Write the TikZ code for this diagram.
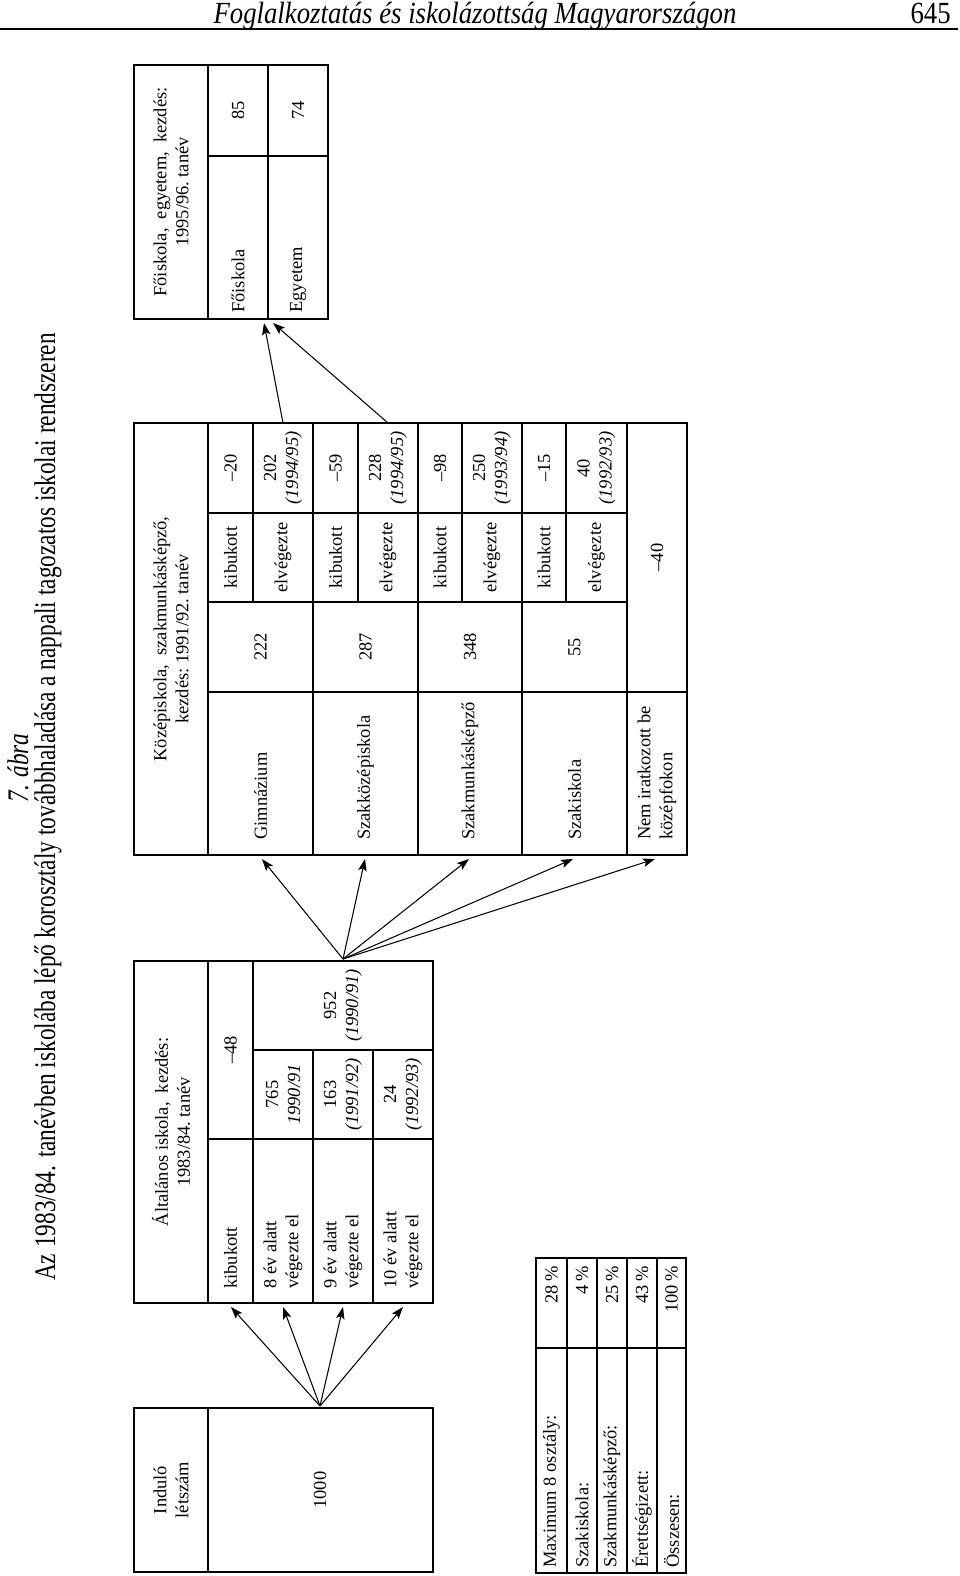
\documentclass[tikz,border=0pt]{standalone}
\usepackage{fontspec}
\setmainfont{Liberation Serif}
\newfontfamily\narrowfont[FakeStretch=0.78]{Liberation Serif}
\newfontfamily\headfont[FakeStretch=0.87]{Liberation Serif}
\usetikzlibrary{arrows.meta}

\tikzset{
  txt/.style={rotate=90, align=center, inner sep=0pt, font=\fontsize{10.5}{12.5}\selectfont},
  ltxt/.style={txt, align=left, anchor=west},
  rtxt/.style={txt, align=right, anchor=east},
  frame/.style={line width=0.9pt},
  arr/.style={-{Stealth[length=2.4mm, width=1.7mm, inset=0.5mm]}, line width=0.6pt},
}

\begin{document}
\begin{tikzpicture}[x=0.02cm, y=-0.02cm]
		\useasboundingbox (0,0) rectangle (960,1576);
		%%%%%%%%%%%%% page head and title
		\node[anchor=base, inner sep=0pt, font=\headfont\itshape\fontsize{17.5}{21}\selectfont] (fej) at (475,23) {Foglalkoztatás és iskolázottság Magyarországon};
		\node[anchor=base east, inner sep=0pt, font=\headfont\fontsize{17.5}{21}\selectfont] (oldal) at (951,23) {645};
		\draw[line width=1.4pt] (0,29) to (958,29);
		\node[rotate=90, font=\narrowfont\itshape\fontsize{17}{20}\selectfont] (abra) at (18,768) {7. ábra};
		\node[rotate=90, font=\narrowfont\fontsize{17}{20}\selectfont] (cim) at (48,807) {Az 1983/84. tanévben iskolába lépő korosztály továbbhaladása a nappali tagozatos iskolai rendszeren};
		%%%%%%%%%%%%% frames
		\draw[frame] (134,1408) rectangle (433,1572);
		\draw[frame] (208,1408) to (208,1572);
		% altalanos iskola
		\draw[frame] (134,961) rectangle (433,1303);
		\draw[frame] (208,961) to (208,1303); \draw[frame] (253,961) to (253,1303);
		\draw[frame] (208,1139) to (433,1139); \draw[frame] (253,1050) to (433,1050);
		\draw[frame] (313,1050) to (313,1303); \draw[frame] (373,1050) to (373,1303);
		% kozepiskola
		\draw[frame] (134,423) rectangle (687,855);
		\draw[frame] (208,423) to (208,855);
		\foreach \x in {313,418,522,627} \draw[frame] (\x,423) to (\x,855);
		\foreach \x in {253,358,462,566} \draw[frame] (\x,423) to (\x,602);
		\draw[frame] (208,692) to (687,692);
		\draw[frame] (208,602) to (627,602); \draw[frame] (208,513) to (627,513);
		% foiskola
		\draw[frame] (134,65) rectangle (328,319);
		\draw[frame] (208,65) to (208,319); \draw[frame] (268,65) to (268,319);
		\draw[frame] (208,156) to (328,156);
		% osszesites
		\draw[frame] (536,1258) rectangle (686,1573);
		\foreach \x in {567,597,627,657} \draw[frame] (\x,1258) to (\x,1573);
		\draw[frame] (536,1348) to (686,1348);
		%%%%%%%%%%%%% texts
		\node[txt] (indulo) at (171,1490) {Induló\\létszám};
		\node[txt] (ezer) at (320,1490) {1000};
		\node[txt] (alt) at (171,1132) {Általános iskola,\ \ kezdés:\\1983/84.\ tanév};
		\node[txt] (m48) at (230.5,1050) {–48};
		\node[ltxt] (kib) at (230.5,1289) {kibukott};
		\node[ltxt] (ev8) at (283,1289) {8 év alatt\\végezte el};
		\node[ltxt] (ev9) at (343,1289) {9 év alatt\\végezte el};
		\node[ltxt] (ev10) at (403,1289) {10 év alatt\\végezte el};
		\node[txt] (n765) at (283,1094.5) {765\\\textit{1990/91}};
		\node[txt] (n163) at (343,1094.5) {163\\\textit{(1991/92)}};
		\node[txt] (n24) at (403,1094.5) {24\\\textit{(1992/93)}};
		\node[txt] (n952) at (343,1005.5) {952\\\textit{(1990/91)}};
		% kozepiskola
		\node[txt] (koz) at (171,639) {Középiskola,\ \ szakmunkásképző,\\kezdés:\ 1991/92.\ tanév};
		\node[ltxt] (gim) at (260.5,840) {Gimnázium};
		\node[ltxt] (szk) at (365.5,840) {Szakközépiskola};
		\node[ltxt] (szm) at (470,840) {Szakmunkásképző};
		\node[ltxt] (ski) at (574.5,840) {Szakiskola};
		\node[ltxt] (nem) at (657,840) {Nem iratkozott be\\középfokon};
		\node[txt] (n222) at (260.5,647) {222};
		\node[txt] (n287) at (365.5,647) {287};
		\node[txt] (n348) at (470,647) {348};
		\node[txt] (n55) at (574.5,647) {55};
		\node[txt] (n40) at (657,557.5) {–40};
		\foreach \x/\nm in {230.5/kg,335.5/ks,440/km,544/ki}
			\node[txt] (\nm) at (\x,557.5) {kibukott};
		\foreach \x/\nm in {283/eg,388/es,492/em,596.5/ei}
			\node[txt] (\nm) at (\x,557.5) {elvégezte};
		\node[txt] (g20) at (230.5,468) {–20};
		\node[txt] (s59) at (335.5,468) {–59};
		\node[txt] (m98) at (440,468) {–98};
		\node[txt] (i15) at (544,468) {–15};
		\node[txt] (g202) at (283,468) {202\\\textit{(1994/95)}};
		\node[txt] (s228) at (388,468) {228\\\textit{(1994/95)}};
		\node[txt] (m250) at (492,468) {250\\\textit{(1993/94)}};
		\node[txt] (i40) at (596.5,468) {40\\\textit{(1992/93)}};
		% foiskola
		\node[txt] (fo) at (171,192) {Főiskola,\ \ egyetem,\ \ kezdés:\\1995/96.\ tanév};
		\node[ltxt] (fok) at (238,313) {Főiskola};
		\node[ltxt] (egy) at (298,313) {Egyetem};
		\node[txt] (n85) at (238,110.5) {85};
		\node[txt] (n74) at (298,110.5) {74};
		% osszesites
		\node[ltxt] (l1) at (551.5,1568) {Maximum 8 osztály:};
		\node[ltxt] (l2) at (582,1568) {Szakiskola:};
		\node[ltxt] (l3) at (612,1568) {Szakmunkásképző:};
		\node[ltxt] (l4) at (642,1568) {Érettségizett:};
		\node[ltxt] (l5) at (671.5,1568) {Összesen:};
		\node[rtxt] (p1) at (551.5,1266) {28\,\%};
		\node[rtxt] (p2) at (582,1266) {4\,\%};
		\node[rtxt] (p3) at (612,1266) {25\,\%};
		\node[rtxt] (p4) at (642,1266) {43\,\%};
		\node[rtxt] (p5) at (671.5,1266) {100\,\%};
		%%%%%%%%%%%%% arrows
		\coordinate (ind) at (320,1406);
		\coordinate (a1) at (231,1307); \coordinate (a2) at (283,1307);
		\coordinate (a3) at (343,1307); \coordinate (a4) at (403,1307);
		\foreach \t in {a1,a2,a3,a4} \draw[arr] (ind) to (\t);
		\coordinate (vegz) at (343,959);
		\coordinate (k1) at (262,859); \coordinate (k2) at (365,859);
		\coordinate (k3) at (469,859); \coordinate (k4) at (573,859);
		\coordinate (k5) at (655,859);
		\foreach \t in {k1,k2,k3,k4,k5} \draw[arr] (vegz) to (\t);
		\coordinate (gv) at (283,423); \coordinate (sv) at (388,423);
		\coordinate (f1) at (264,323); \coordinate (f2) at (273,323);
		\draw[arr] (gv) to (f1);
		\draw[arr] (sv) to (f2);
\end{tikzpicture}
\end{document}
